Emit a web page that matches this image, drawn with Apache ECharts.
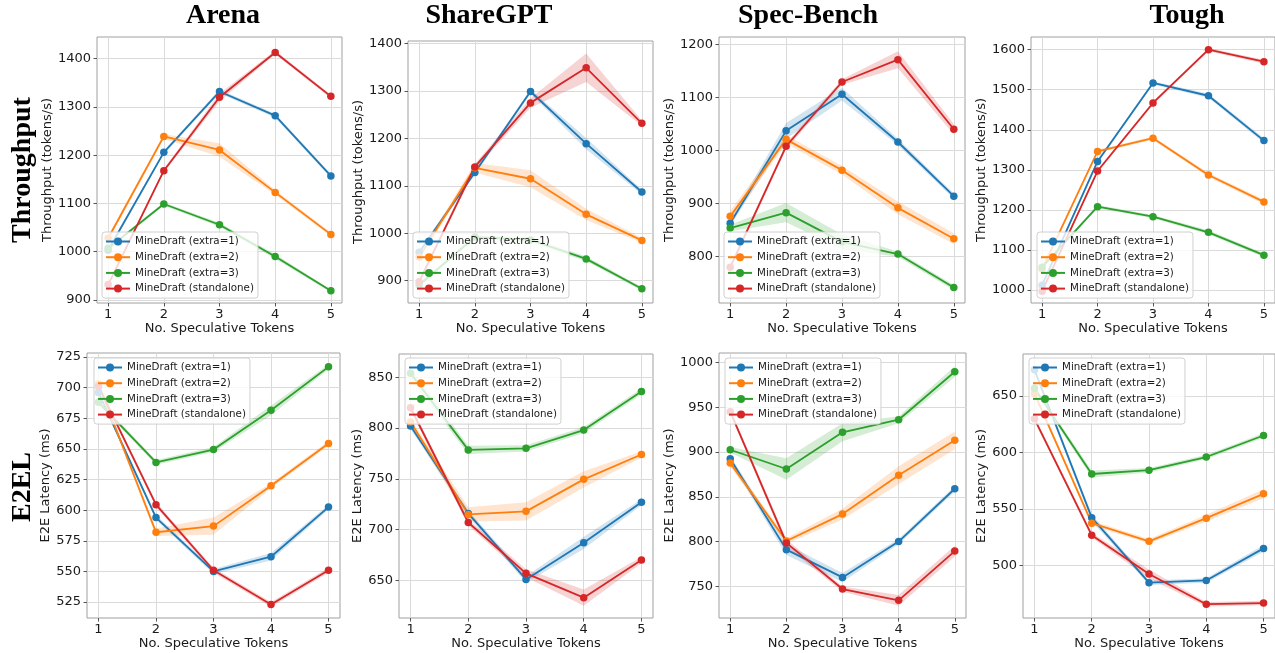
<!DOCTYPE html>
<html><head><meta charset="utf-8">
<script src="https://cdn.jsdelivr.net/npm/echarts@6/dist/echarts.min.js"></script>
<style>html,body{margin:0;padding:0;background:#fff}#c{width:1275px;height:653px}</style>
</head><body><div id="c"></div>
<script>
// ---------- DATA ----------
const xs = [1, 2, 3, 4, 5];
const seriesNames = ['MineDraft (extra=1)', 'MineDraft (extra=2)', 'MineDraft (extra=3)', 'MineDraft (standalone)'];
const columnTitles = ['Arena', 'ShareGPT', 'Spec-Bench', 'Tough'];
const rowTitles = ['Throughput', 'E2EL'];

// Throughput (tokens/s)
const arenaTputE1 = [1003, 1206, 1332, 1282, 1157];
const arenaTputE2 = [1028, 1239, 1211, 1123, 1036];
const arenaTputE3 = [1007, 1099, 1056, 990, 919];
const arenaTputSA = [932, 1168, 1320, 1413, 1322];
const arenaTputE1Err = [4, 4, 4, 4, 4];
const arenaTputE2Err = [5, 5, 14, 5, 4];
const arenaTputE3Err = [4, 3, 4, 5, 3];
const arenaTputSAErr = [4, 4, 8, 4, 4];

const shareTputE1 = [960, 1128, 1299, 1189, 1087];
const shareTputE2 = [950, 1138, 1115, 1040, 985];
const shareTputE3 = [891, 992, 986, 946, 883];
const shareTputSA = [898, 1140, 1275, 1349, 1232];
const shareTputE1Err = [5, 5, 5, 12, 5];
const shareTputE2Err = [5, 10, 18, 12, 5];
const shareTputE3Err = [4, 5, 5, 5, 4];
const shareTputSAErr = [5, 6, 10, 30, 6];

const specTputE1 = [863, 1037, 1106, 1016, 914];
const specTputE2 = [876, 1021, 963, 892, 834];
const specTputE3 = [854, 883, 828, 805, 742];
const specTputSA = [780, 1008, 1129, 1171, 1040];
const specTputE1Err = [5, 15, 12, 6, 5];
const specTputE2Err = [10, 8, 8, 12, 10];
const specTputE3Err = [6, 18, 14, 5, 5];
const specTputSAErr = [5, 5, 5, 16, 10];

const toughTputE1 = [1012, 1321, 1517, 1485, 1373];
const toughTputE2 = [1052, 1346, 1379, 1287, 1220];
const toughTputE3 = [1057, 1208, 1183, 1144, 1087];
const toughTputSA = [997, 1297, 1467, 1600, 1570];
const toughTputE1Err = [4, 5, 4, 5, 6];
const toughTputE2Err = [4, 4, 4, 5, 6];
const toughTputE3Err = [4, 4, 4, 5, 5];
const toughTputSAErr = [4, 4, 4, 4, 5];

// E2E latency (ms)
const arenaLatE1 = [696, 594, 550, 562, 602.5];
const arenaLatE2 = [703, 582, 587, 620, 654.5];
const arenaLatE3 = [688, 639, 649.5, 681.5, 717];
const arenaLatSA = [701, 604.5, 551, 523, 551];
const arenaLatE1Err = [2, 2, 2, 3, 2];
const arenaLatE2Err = [2, 3, 7, 2, 2];
const arenaLatE3Err = [2, 2, 2, 4, 2];
const arenaLatSAErr = [2, 2, 2, 2, 2];

const shareLatE1 = [802, 716, 651, 687, 727];
const shareLatE2 = [806, 715, 718, 749.5, 774];
const shareLatE3 = [854, 778.5, 780, 798, 836];
const shareLatSA = [820, 707, 657, 633, 670];
const shareLatE1Err = [3, 3, 3, 6, 3];
const shareLatE2Err = [3, 7, 9, 8, 3];
const shareLatE3Err = [5, 4, 3, 3, 3];
const shareLatSAErr = [3, 3, 4, 8, 3];

const specLatE1 = [892.5, 791, 760, 800, 859];
const specLatE2 = [887.6, 800.6, 830.7, 874, 913];
const specLatE3 = [902.5, 881, 922, 936, 989.6];
const specLatSA = [945, 798.5, 747, 734.4, 789.4];
const specLatE1Err = [3, 6, 5, 3, 3];
const specLatE2Err = [4, 3, 6, 10, 10];
const specLatE3Err = [3, 12, 10, 4, 6];
const specLatSAErr = [3, 4, 3, 6, 6];

const toughLatE1 = [673, 542.4, 485, 487, 515.3];
const toughLatE2 = [652, 537.6, 521.5, 542, 563.5];
const toughLatE3 = [656.8, 581, 584.4, 596, 615];
const toughLatSA = [629.7, 527, 492.6, 466, 467];
const toughLatE1Err = [2, 3, 2, 2, 3];
const toughLatE2Err = [2, 2, 2, 3, 4];
const toughLatE3Err = [2, 3, 2, 2, 2];
const toughLatSAErr = [2, 2, 4, 2, 2];

// tick labels
const arenaTputTicks = [900, 1000, 1100, 1200, 1300, 1400];
const shareTputTicks = [900, 1000, 1100, 1200, 1300, 1400];
const specTputTicks = [800, 900, 1000, 1100, 1200];
const toughTputTicks = [1000, 1100, 1200, 1300, 1400, 1500, 1600];
const arenaLatTicks = [525, 550, 575, 600, 625, 650, 675, 700, 725];
const shareLatTicks = [650, 700, 750, 800, 850];
const specLatTicks = [750, 800, 850, 900, 950, 1000];
const toughLatTicks = [500, 550, 600, 650];

// ---------- LAYOUT ----------
const colors = ['#1f77b4', '#ff7f0e', '#2ca02c', '#d62728'];
const FONT = 'DejaVu Sans';
const TPUT = 'Throughput (tokens/s)', LAT = 'E2E Latency (ms)';
const panels = [
  {g:{left:97,top:37,width:245,height:266}, y:[893.8,1445], ticks:arenaTputTicks, yName:TPUT, yGap:40, xGap:16,
   vals:[arenaTputE1,arenaTputE2,arenaTputE3,arenaTputSA], errs:[arenaTputE1Err,arenaTputE2Err,arenaTputE3Err,arenaTputSAErr], lg:{left:102,top:232}},
  {g:{left:408,top:41,width:245,height:262}, y:[853,1405.5], ticks:shareTputTicks, yName:TPUT, yGap:39, xGap:16,
   vals:[shareTputE1,shareTputE2,shareTputE3,shareTputSA], errs:[shareTputE1Err,shareTputE2Err,shareTputE3Err,shareTputSAErr], lg:{left:413,top:232}},
  {g:{left:719,top:37,width:246,height:266}, y:[712.9,1213.7], ticks:specTputTicks, yName:TPUT, yGap:39, xGap:16,
   vals:[specTputE1,specTputE2,specTputE3,specTputSA], errs:[specTputE1Err,specTputE2Err,specTputE3Err,specTputSAErr], lg:{left:724,top:232}},
  {g:{left:1031,top:37,width:245,height:266}, y:[967.5,1631.7], ticks:toughTputTicks, yName:TPUT, yGap:39, xGap:16,
   vals:[toughTputE1,toughTputE2,toughTputE3,toughTputSA], errs:[toughTputE1Err,toughTputE2Err,toughTputE3Err,toughTputSAErr], lg:{left:1037,top:232}},
  {g:{left:87,top:353,width:253,height:265}, y:[512,728.3], ticks:arenaLatTicks, yName:LAT, yGap:31, xGap:17,
   vals:[arenaLatE1,arenaLatE2,arenaLatE3,arenaLatSA], errs:[arenaLatE1Err,arenaLatE2Err,arenaLatE3Err,arenaLatSAErr], lg:{left:94,top:358}},
  {g:{left:399,top:354,width:254,height:264}, y:[613,872.9], ticks:shareLatTicks, yName:LAT, yGap:29, xGap:17,
   vals:[shareLatE1,shareLatE2,shareLatE3,shareLatSA], errs:[shareLatE1Err,shareLatE2Err,shareLatE3Err,shareLatSAErr], lg:{left:405,top:358}},
  {g:{left:719,top:353,width:247,height:265}, y:[714.7,1010.5], ticks:specLatTicks, yName:LAT, yGap:39, xGap:17,
   vals:[specLatE1,specLatE2,specLatE3,specLatSA], errs:[specLatE1Err,specLatE2Err,specLatE3Err,specLatSAErr], lg:{left:725,top:358}},
  {g:{left:1023,top:354,width:253,height:264}, y:[453.8,687], ticks:toughLatTicks, yName:LAT, yGap:33, xGap:17,
   vals:[toughLatE1,toughLatE2,toughLatE3,toughLatSA], errs:[toughLatE1Err,toughLatE2Err,toughLatE3Err,toughLatSAErr], lg:{left:1029,top:358}}
];

function bandRender(color) {
  return function (params, api) {
    if (params.dataIndexInside !== 0) return null;
    const n = params.dataInsideLength;
    const lower = [], upper = [];
    for (let j = 0; j < n; j++) {
      const x = api.value(0, j);
      lower.push(api.coord([x, api.value(1, j)]));
      upper.push(api.coord([x, api.value(2, j)]));
    }
    return {type:'polygon', shape:{points: lower.concat(upper.reverse())},
      style:{fill: color, opacity: 0.2}, silent:true};
  };
}

const grids = [], xAxes = [], yAxes = [], series = [], legends = [];
panels.forEach((p, pi) => {
  grids.push(Object.assign({show:true, borderColor:'#a0a0a0', borderWidth:1, backgroundColor:'rgba(0,0,0,0)'}, p.g));
  xAxes.push({type:'value', gridIndex:pi, min:0.8, max:5.2,
    axisLine:{show:false}, splitLine:{show:false},
    axisTick:{show:true, customValues:xs, length:3.5, lineStyle:{color:'#555'}},
    axisLabel:{customValues:xs, formatter:v => String(v), fontSize:13, fontFamily:FONT, color:'#1a1a1a', margin:5},
    name:'No. Speculative Tokens', nameLocation:'middle', nameGap:p.xGap,
    nameTextStyle:{fontSize:13, fontFamily:FONT, color:'#1a1a1a'}});
  yAxes.push({type:'value', gridIndex:pi, min:p.y[0], max:p.y[1],
    axisLine:{show:false}, splitLine:{show:false},
    axisTick:{show:true, customValues:p.ticks, length:3.5, lineStyle:{color:'#555'}},
    axisLabel:{customValues:p.ticks, formatter:v => String(v), fontSize:13, fontFamily:FONT, color:'#1a1a1a', margin:6},
    name:p.yName, nameLocation:'middle', nameGap:p.yGap,
    nameTextStyle:{fontSize:13, fontFamily:FONT, color:'#1a1a1a'}});
  // grid lines
  series.push({type:'line', name:'_grid'+pi, xAxisIndex:pi, yAxisIndex:pi, data:[], silent:true, z:1,
    markLine:{silent:true, symbol:'none', animation:false, z:1, label:{show:false},
      lineStyle:{color:'#dadada', width:1, type:'solid'}, emphasis:{disabled:true},
      data: xs.map(v => ({xAxis:v})).concat(p.ticks.map(v => ({yAxis:v})))}});
  p.vals.forEach((v, k) => {
    const e = p.errs[k];
    series.push({type:'custom', name:'_band'+pi+'_'+k, xAxisIndex:pi, yAxisIndex:pi, silent:true, z:2,
      renderItem: bandRender(colors[k]), encode:{x:0, y:[1, 2]},
      data: xs.map((x, i) => [x, v[i] - e[i], v[i] + e[i]])});
  });
  p.vals.forEach((v, k) => {
    series.push({type:'line', name:seriesNames[k], xAxisIndex:pi, yAxisIndex:pi, z:3,
      color:colors[k], symbol:'circle', symbolSize:7.5, animation:false,
      lineStyle:{width:1.8, color:colors[k]}, itemStyle:{color:colors[k], borderWidth:0},
      data: xs.map((x, i) => [x, v[i]])});
  });
  legends.push({data:seriesNames, left:p.lg.left, top:p.lg.top, orient:'vertical', selectedMode:false,
    itemWidth:24, itemHeight:10, itemGap:3.7, padding:[3.5, 4, 3.5, 3],
    backgroundColor:'rgba(255,255,255,0.8)', borderColor:'#d0d0d0', borderWidth:1, borderRadius:3,
    textStyle:{fontSize:10.3, fontFamily:FONT, color:'#1a1a1a', lineHeight:12}});
});

const titleX = [223, 489, 808, 1187];
const graphics = columnTitles.map((t, i) => ({type:'text', x:titleX[i], y:16,
  style:{text:t, font:'bold 28px "Liberation Serif"', fill:'#000', textAlign:'center', textVerticalAlign:'middle'}}));
const rowY = [170, 487];
rowTitles.forEach((t, i) => graphics.push({type:'text', x:23, y:rowY[i], rotation:Math.PI/2,
  style:{text:t, font:'bold 28px "Liberation Serif"', fill:'#000', textAlign:'center', textVerticalAlign:'middle'}}));

const chart = echarts.init(document.getElementById('c'), null, {renderer:'canvas'});
chart.setOption({animation:false, grid:grids, xAxis:xAxes, yAxis:yAxes, series:series, legend:legends, graphic:graphics});
</script></body></html>
